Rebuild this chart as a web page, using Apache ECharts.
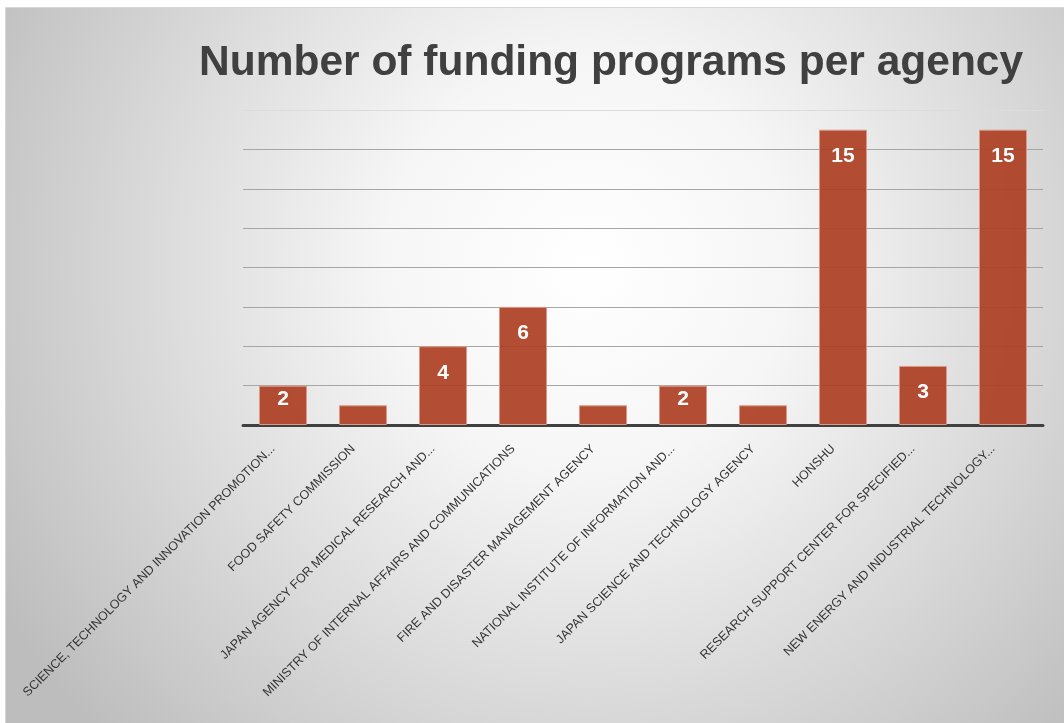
<!DOCTYPE html>
<html>
<head>
<meta charset="utf-8">
<script src="https://cdn.jsdelivr.net/npm/echarts@6/dist/echarts.min.js"></script>
<style>
    html, body { margin: 0; padding: 0; background: #fff; }
    #chartDiv {
        position: absolute; left: 5px; top: 7px;
        width: 1058px; height: 715px;
        border-left: 1px solid #d8d8d8; border-top: 1px solid #d8d8d8;
    }
</style>
</head>
<body>
<div id="chartDiv"></div>
<script>
// 机构名称（图中已截断的显示文字）
var agencies = [
    'SCIENCE, TECHNOLOGY AND INNOVATION PROMOTION...',
    'FOOD SAFETY COMMISSION',
    'JAPAN AGENCY FOR MEDICAL RESEARCH AND...',
    'MINISTRY OF INTERNAL AFFAIRS AND COMMUNICATIONS',
    'FIRE AND DISASTER MANAGEMENT AGENCY',
    'NATIONAL INSTITUTE OF INFORMATION AND...',
    'JAPAN SCIENCE AND TECHNOLOGY AGENCY',
    'HONSHU',
    'RESEARCH SUPPORT CENTER FOR SPECIFIED...',
    'NEW ENERGY AND INDUSTRIAL TECHNOLOGY...'
];
var programCounts = [2, 1, 4, 6, 1, 2, 1, 15, 3, 15];
var yTicks = { min: 0, max: 16, interval: 2 };

var gridColors = ['#999', '#a6a6a6', '#a6a6a6', '#a6a6a6', '#a6a6a6', '#a6a6a6', '#a6a6a6', '#a6a6a6', '#dcdcdc'];

var barData = [];
for (var i = 0; i < programCounts.length; i++) {
    var v = programCounts[i];
    var item = { value: v };
    if (v <= 1) {
        item.label = { show: false };
    } else if (v == 2) {
        item.label = { distance: 3 };
    }
    barData.push(item);
}

var myChart_1 = echarts.init(document.getElementById('chartDiv'));
var option = {
    animation: false,
    backgroundColor: {
        type: 'radial', x: 0.55, y: 0.36, r: 0.95,
        colorStops: [
            { offset: 0, color: '#ffffff' },
            { offset: 0.3, color: '#f6f6f6' },
            { offset: 1, color: '#bdbdbd' }
        ]
    },
    title: {
        text: 'Number of funding programs per agency',
        left: 188,
        top: 29,
        textStyle: {
            fontFamily: 'Liberation Sans',
            fontSize: 42.5,
            fontWeight: 'bold',
            color: '#404040'
        }
    },
    grid: {
        left: 237,
        top: 102,
        width: 800,
        height: 315,
        containLabel: false
    },
    xAxis: {
        type: 'category',
        data: agencies,
        axisTick: { show: false },
        axisLine: { lineStyle: { color: '#404040', width: 3 } },
        axisLabel: {
            interval: 0,
            rotate: 45,
            margin: 12,
            padding: [0, 14, 0, 0],
            fontFamily: 'Liberation Sans',
            fontSize: 12.5,
            color: '#333'
        }
    },
    yAxis: {
        type: 'value',
        min: yTicks.min,
        max: yTicks.max,
        interval: yTicks.interval,
        axisLabel: { show: false },
        axisLine: { show: false },
        axisTick: { show: false },
        splitLine: { lineStyle: { color: gridColors, width: 1 } }
    },
    series: [{
        type: 'bar',
        data: barData,
        barCategoryGap: '40%',
        itemStyle: {
            color: 'rgba(172, 62, 34, 0.92)',
            borderColor: '#d9998a',
            borderWidth: 1
        },
        label: {
            show: true,
            position: 'insideTop',
            distance: 16,
            fontFamily: 'Liberation Sans',
            fontSize: 21,
            fontWeight: 'bold',
            color: '#fff'
        }
    }]
};
myChart_1.setOption(option);
</script>
</body>
</html>
